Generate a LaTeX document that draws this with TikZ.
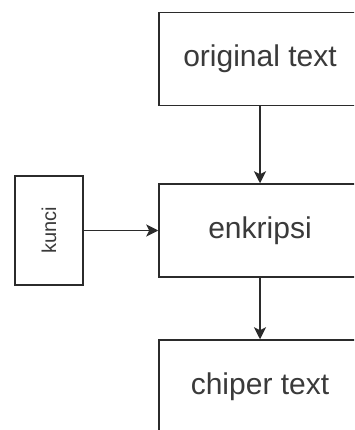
\documentclass[tikz,border=0pt]{standalone}
\usepackage{fontspec}
\setmainfont{Liberation Sans}
\usetikzlibrary{arrows.meta}
\definecolor{edge}{HTML}{2B2B2B}
\definecolor{label}{HTML}{3A3A3A}
\begin{document}
\begin{tikzpicture}[x=1pt,y=-1pt,
  block/.style={draw=edge, line width=1.5pt, fill=white, rectangle,
    minimum width=202pt, minimum height=93pt, inner sep=0pt,
    text=label, font=\fontsize{30}{30}\selectfont},
  keybox/.style={draw=edge, line width=1.5pt, fill=white, rectangle,
    minimum width=68pt, minimum height=109pt, inner sep=0pt},
  flow/.style={draw=edge, line width=1.5pt,
    -{Stealth[length=12pt,width=12pt,inset=3pt]}}]
  \clip (0,0) rectangle (354,430);
  \fill[white] (0,0) rectangle (354,430);

  \node[block] (orig) at (260,59) {original text};
  \node[block] (enc) at (260,230.5) {enkripsi};
  \node[block] (ciph) at (260,386.5) {chiper text};
  \node[keybox] (key) at (49,230.5) {};
  \node[text=label, font=\fontsize{20}{20}\selectfont, rotate=90] (keytext) at (key.center) {kunci};

  \draw[flow] (orig.south -| 260,0) -- (enc.north -| 260,0);
  \draw[flow] (enc.south -| 260,0) -- (ciph.north -| 260,0);
  \draw[flow] (key.east) -- (enc.west);
\end{tikzpicture}
\end{document}
